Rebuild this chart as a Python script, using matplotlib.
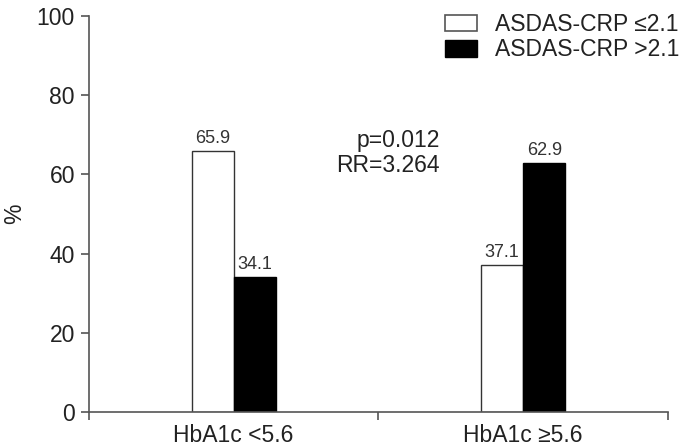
import matplotlib
matplotlib.use("Agg")
import matplotlib.pyplot as plt
from matplotlib.patches import Patch

categories = ["HbA1c <5.6", "HbA1c \u22655.6"]
series_names = ["ASDAS-CRP \u22642.1", "ASDAS-CRP >2.1"]
low_vals = [65.9, 37.1]
high_vals = [34.1, 62.9]
yticks = [0, 20, 40, 60, 80, 100]

plt.rcParams['font.family'] = ['Liberation Sans', 'DejaVu Sans']
txt = '#222222'
axc = '#555555'

fig = plt.figure(figsize=(6.89, 4.48), dpi=100)
ax = fig.add_axes([0.129, 0.0804, 0.8405, 0.8836])

centers = [0.5, 1.5]
w = 0.145
for i, c in enumerate(centers):
    ax.bar(c - w / 2, low_vals[i], width=w, color='white', edgecolor='#333333', linewidth=1.0)
    ax.bar(c + w / 2, high_vals[i], width=w, color='black', edgecolor='black', linewidth=1.0)
    ax.text(c - w / 2, low_vals[i] + 1.0, f"{low_vals[i]:.1f}", ha='center', va='bottom', fontsize=13, color='#333333')
    ax.text(c + w / 2, high_vals[i] + 1.0, f"{high_vals[i]:.1f}", ha='center', va='bottom', fontsize=13, color='#333333')

ax.set_xlim(0, 2)
ax.set_ylim(0, 100)
ax.set_yticks(yticks)
ax.set_xticks(centers)
ax.set_xticklabels(categories)
ax.set_xticks([0, 1, 2], minor=True)
ax.tick_params(axis='x', which='major', length=0, labelsize=16.5, colors=txt, pad=9)
ax.tick_params(axis='x', which='minor', length=6, direction='out', color=axc, width=1.2)
ax.tick_params(axis='y', length=6, direction='out', labelsize=16.5, colors=txt, color=axc, width=1.2, pad=4)
for s in ['top', 'right']:
    ax.spines[s].set_visible(False)
for s in ['left', 'bottom']:
    ax.spines[s].set_color(axc)
    ax.spines[s].set_linewidth(1.2)

ax.set_ylabel('%', fontsize=16.5, color=txt, labelpad=8)

ax.text(1.212, 65.4, "p=0.012\nRR=3.264", ha='right', va='center', fontsize=16.5, color=txt, linespacing=1.1)

handles = [Patch(facecolor='white', edgecolor='#555555', linewidth=1.2),
           Patch(facecolor='black', edgecolor='black')]
fig.legend(handles, series_names, loc='upper left', bbox_to_anchor=(445 / 689, 1 - 13 / 448), frameon=False,
           fontsize=16.5, handlelength=1.4, handleheight=0.74, handletextpad=0.8, labelspacing=0.1,
           borderpad=0, borderaxespad=0, labelcolor=txt)

fig.savefig('out.png', dpi=100)
